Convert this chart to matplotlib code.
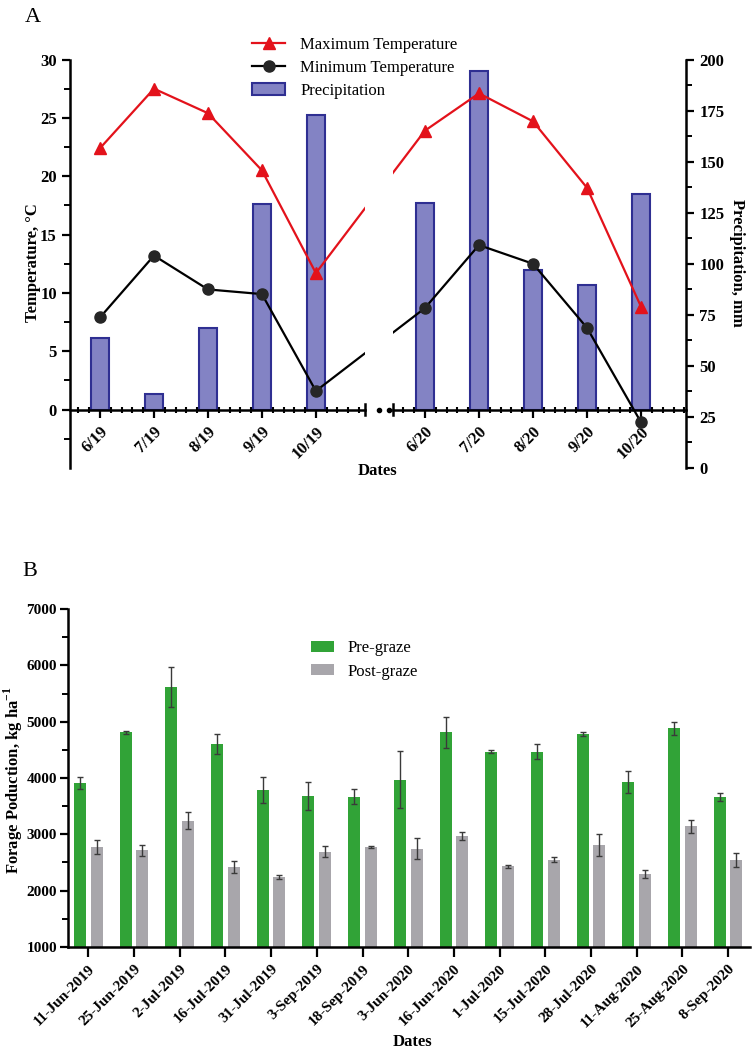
import matplotlib
matplotlib.use("Agg")
import matplotlib.pyplot as plt
import matplotlib.transforms as mtransforms
import numpy as np
from matplotlib.lines import Line2D
from matplotlib.patches import Patch
from matplotlib.ticker import FixedLocator, MultipleLocator

plt.rcParams["font.family"] = "Liberation Serif"
plt.rcParams["mathtext.fontset"] = "custom"
plt.rcParams["mathtext.rm"] = "Liberation Serif"
plt.rcParams["mathtext.bf"] = "Liberation Serif:bold"

# =========================
# Panel A: weather
# =========================
months_2019 = ["6/19", "7/19", "8/19", "9/19", "10/19"]
months_2020 = ["6/20", "7/20", "8/20", "9/20", "10/20"]
max_temp = [22.4, 27.5, 25.4, 20.5, 11.7, 23.9, 27.1, 24.7, 19.0, 8.8]
min_temp = [7.9, 13.2, 10.3, 9.9, 1.6, 8.7, 14.1, 12.5, 7.0, -1.1]
precip = [63.8, 36.1, 68.4, 129.1, 172.7, 129.8, 194.4, 96.9, 89.6, 134.2]

# =========================
# Panel B: forage
# =========================
dates = [
    "11-Jun-2019", "25-Jun-2019", "2-Jul-2019", "16-Jul-2019", "31-Jul-2019",
    "3-Sep-2019", "18-Sep-2019", "3-Jun-2020", "16-Jun-2020", "1-Jul-2020",
    "15-Jul-2020", "28-Jul-2020", "11-Aug-2020", "25-Aug-2020", "8-Sep-2020",
]
pre_graze = [3907, 4808, 5616, 4607, 3788, 3687, 3669, 3970, 4812, 4470,
             4470, 4785, 3936, 4879, 3660]
pre_err = [105, 30, 350, 175, 225, 250, 130, 505, 275, 30, 140, 40, 195, 107, 70]
post_graze = [2775, 2718, 3245, 2420, 2242, 2695, 2775, 2745, 2970, 2430,
              2550, 2815, 2300, 3142, 2550]
post_err = [120, 95, 150, 100, 28, 105, 20, 190, 70, 30, 45, 195, 70, 115, 125]

RED = "#e3121b"
DARK = "#262626"
BAR_FILL = "#8383c4"
BAR_EDGE = "#2f2f92"
GREEN = "#31a337"
GRAY = "#a8a6ab"
TICK_A = 12
TICK_B = 11

W, H = 752, 1050


def fx(px):
    return px / W


def fy(py):
    return 1 - py / H


fig = plt.figure(figsize=(W / 100, H / 100), dpi=100)

# ---------- panel A (broken x axis) ----------
GAP = 6.0
xs = np.r_[np.arange(5), np.arange(5) + GAP]
temp_lim = (-5, 30)
prec_lim = (0, 200)
base = prec_lim[0] + (0 - temp_lim[0]) / (temp_lim[1] - temp_lim[0]) * (prec_lim[1] - prec_lim[0])
prec_arr = np.array(precip)

top_a, bot_a = 59.5, 468
ax1 = fig.add_axes([fx(70), fy(bot_a), fx(365) - fx(70), (bot_a - top_a) / H])
ax2 = fig.add_axes([fx(393), fy(bot_a), fx(686) - fx(393), (bot_a - top_a) / H])

for ax, lim, pos, labels in [
    (ax1, (-0.556, 4.91), np.arange(5), months_2019),
    (ax2, (GAP - 0.59, GAP + 4.83), np.arange(5) + GAP, months_2020),
]:
    tw = ax.twinx()
    tw.bar(xs, prec_arr - base, bottom=base, width=0.33, color=BAR_FILL,
           edgecolor=BAR_EDGE, linewidth=1.5)
    tw.set_ylim(*prec_lim)
    ax.set_zorder(tw.get_zorder() + 1)
    ax.patch.set_visible(False)

    ax.plot(xs, max_temp, color=RED, lw=1.6, marker="^", ms=8)
    ax.plot(xs, min_temp, color="black", lw=1.6, marker="o", ms=8,
            markerfacecolor=DARK, markeredgecolor=DARK)
    ax.set_ylim(*temp_lim)
    ax.set_xlim(*lim)

    for s in ["top", "right"]:
        ax.spines[s].set_visible(False)
    ax.spines["bottom"].set_position(("data", 0))
    ax.spines["bottom"].set_linewidth(1.8)
    ax.spines["left"].set_linewidth(1.8)
    for s in tw.spines.values():
        s.set_visible(False)

    ax.set_xticks(pos)
    ax.set_xticklabels(labels, rotation=45, ha="right", rotation_mode="anchor",
                       fontweight="bold", fontsize=TICK_A)
    ax.xaxis.set_minor_locator(MultipleLocator(0.2))
    ax.tick_params(axis="x", which="major", direction="out", length=6, width=1.6, pad=4)
    ax.tick_params(axis="x", which="minor", direction="inout", length=5, width=1.5)
    tw.tick_params(axis="y", which="both", right=False, labelright=False)

ax1.set_yticks(np.arange(0, 31, 5))
ax1.yaxis.set_minor_locator(FixedLocator(np.arange(-2.5, 30, 5)))
ax1.tick_params(axis="y", which="major", length=6, width=1.6, labelsize=TICK_A)
ax1.tick_params(axis="y", which="minor", length=4, width=1.4)
for lab in ax1.get_yticklabels():
    lab.set_fontweight("bold")

ax2.spines["left"].set_visible(False)
ax2.tick_params(axis="y", which="both", left=False, labelleft=False)

tw2 = fig.axes[-1]
tw2.spines["right"].set_visible(True)
tw2.spines["right"].set_linewidth(1.8)
tw2.set_yticks(np.arange(0, 201, 25))
tw2.yaxis.set_minor_locator(FixedLocator(np.arange(12.5, 200, 25)))
tw2.tick_params(axis="y", which="major", right=True, labelright=True,
                length=6, width=1.6, labelsize=TICK_A)
tw2.tick_params(axis="y", which="minor", right=True, length=4, width=1.4)
for lab in tw2.get_yticklabels():
    lab.set_fontweight("bold")

# break marks
tr1 = mtransforms.blended_transform_factory(ax1.transAxes, ax1.transData)
ax1.plot([1.0, 1.0], [-0.45, 0.45], color="black", lw=1.8, transform=tr1, clip_on=False)
ax1.plot([(379 - 70) / 295, (389 - 70) / 295], [0, 0], ls="none", marker="o", ms=3,
         color="black", transform=tr1, clip_on=False)
tr2 = mtransforms.blended_transform_factory(ax2.transAxes, ax2.transData)
ax2.plot([0.0, 0.0], [-0.45, 0.45], color="black", lw=1.8, transform=tr2, clip_on=False)

handles_a = [
    Line2D([], [], color=RED, lw=1.6, marker="^", ms=8),
    Line2D([], [], color="black", lw=1.6, marker="o", ms=8,
           markerfacecolor=DARK, markeredgecolor=DARK),
    Patch(facecolor=BAR_FILL, edgecolor=BAR_EDGE, linewidth=1.5),
]
fig.legend(handles_a, ["Maximum Temperature", "Minimum Temperature", "Precipitation"],
           loc="upper left", bbox_to_anchor=(fx(252), fy(37)), frameon=False,
           fontsize=12, handlelength=2.0, handletextpad=0.9, labelspacing=0.42,
           borderpad=0, borderaxespad=0)

fig.text(fx(33), fy(263), "Temperature, °C", rotation=90, ha="center", va="center",
         fontweight="bold", fontsize=12)
fig.text(fx(737), fy(263), "Precipitation, mm", rotation=270, ha="center", va="center",
         fontweight="bold", fontsize=12)
fig.text(fx(377), fy(471), "Dates", ha="center", va="center", fontweight="bold", fontsize=12)
fig.text(fx(33), fy(17), "A", ha="center", va="center", fontsize=16)

# ---------- panel B ----------
axb = fig.add_axes([fx(68), fy(947), fx(750) - fx(68), (947 - 609) / H])
xb = np.arange(len(dates))
off, bw = 0.183, 0.263
err_kw = dict(ecolor="#3a3a3a", elinewidth=1.0, capsize=2.5, capthick=1.0)
axb.bar(xb - off, pre_graze, width=bw, color=GREEN, yerr=pre_err, error_kw=err_kw,
        label="Pre-graze")
axb.bar(xb + off, post_graze, width=bw, color=GRAY, yerr=post_err, error_kw=err_kw,
        label="Post-graze")
axb.set_ylim(1000, 7000)
axb.set_xlim(-0.445, 14.48)
axb.set_yticks(np.arange(1000, 7001, 1000))
axb.yaxis.set_minor_locator(MultipleLocator(500))
axb.set_xticks(xb)
axb.set_xticklabels(dates, rotation=45, ha="right", rotation_mode="anchor",
                    fontweight="bold", fontsize=TICK_B)
for lab in axb.get_yticklabels():
    lab.set_fontweight("bold")
axb.tick_params(axis="y", which="major", length=6, width=1.6, labelsize=TICK_B, pad=2)
axb.tick_params(axis="y", which="minor", length=4, width=1.4)
axb.tick_params(axis="x", which="major", length=7, width=1.6, pad=4)
for s in ["top", "right"]:
    axb.spines[s].set_visible(False)
for s in ["left", "bottom"]:
    axb.spines[s].set_linewidth(1.8)

axb.legend(loc="upper left", bbox_to_anchor=(fx(311), fy(640)),
           bbox_transform=fig.transFigure, frameon=False, fontsize=12,
           handlelength=1.4, handleheight=0.65, handletextpad=0.8,
           labelspacing=0.45, borderpad=0, borderaxespad=0)

fig.text(fx(13), fy(780), r"Forage Poduction, kg ha$^{\mathbf{-1}}$", rotation=90,
         ha="center", va="center", fontweight="bold", fontsize=12)
fig.text(fx(412), fy(1042), "Dates", ha="center", va="center", fontweight="bold", fontsize=12)
fig.text(fx(30), fy(572), "B", ha="center", va="center", fontsize=16)

fig.savefig("out.png", dpi=100)
